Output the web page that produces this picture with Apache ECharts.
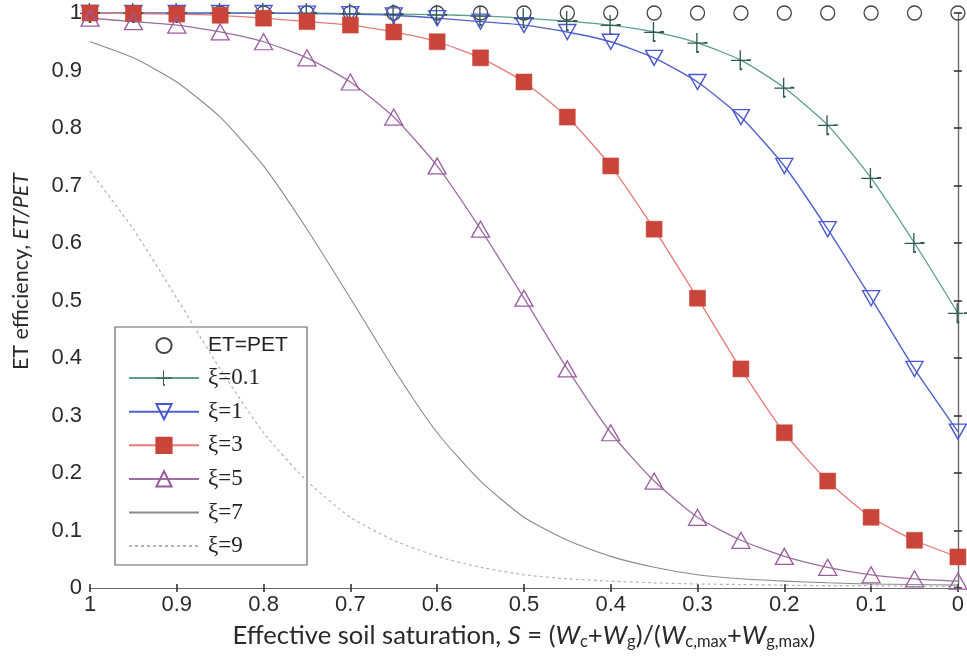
<!DOCTYPE html>
<html>
<head>
<meta charset="utf-8">
<script src="https://cdn.jsdelivr.net/npm/echarts@6/dist/echarts.min.js"></script>
<style>
  html, body { margin: 0; padding: 0; background: #fff; }
  #chart { width: 967px; height: 666px; }
</style>
</head>
<body>
<div id="chart"></div>
<script>
// Effective soil saturation S (x), from wet (1) to dry (0)
const saturation = [1, 0.95, 0.9, 0.85, 0.8, 0.75, 0.7, 0.65, 0.6, 0.55, 0.5,
                    0.45, 0.4, 0.35, 0.3, 0.25, 0.2, 0.15, 0.1, 0.05, 0];

// ET/PET for each curve, one value per saturation point
const etEqualsPet = [1, 1, 1, 1, 1, 1, 1, 1, 1, 1, 1, 1, 1, 1, 1, 1, 1, 1, 1, 1, 1];
const xi01 = [1, 1, 1, 1, 1, 1, 0.999, 0.998, 0.997, 0.995, 0.991,
              0.986, 0.979, 0.967, 0.948, 0.918, 0.870, 0.805, 0.713, 0.600, 0.478];
const xi1  = [1, 1, 1, 1, 1, 0.999, 0.998, 0.996, 0.991, 0.985, 0.979,
              0.967, 0.950, 0.922, 0.880, 0.819, 0.734, 0.624, 0.504, 0.381, 0.272];
const xi3  = [1, 0.999, 0.998, 0.996, 0.991, 0.985, 0.979, 0.967, 0.950, 0.922, 0.880,
              0.819, 0.734, 0.624, 0.504, 0.381, 0.270, 0.186, 0.123, 0.083, 0.054];
const xi5  = [0.991, 0.985, 0.979, 0.967, 0.950, 0.922, 0.880, 0.819, 0.734, 0.624, 0.504,
              0.381, 0.270, 0.186, 0.123, 0.083, 0.055, 0.036, 0.023, 0.016, 0.012];
const xi7  = [0.950, 0.922, 0.880, 0.819, 0.734, 0.624, 0.504, 0.381, 0.270, 0.186, 0.123,
              0.083, 0.055, 0.036, 0.023, 0.016, 0.012, 0.009, 0.007, 0.006, 0.005];
const xi9  = [0.725, 0.624, 0.504, 0.381, 0.270, 0.186, 0.123, 0.083, 0.055, 0.036, 0.023,
              0.016, 0.012, 0.009, 0.007, 0.006, 0.005, 0.004, 0.004, 0.003, 0.003];

const seriesNames = ['ET=PET', 'ξ=0.1', 'ξ=1', 'ξ=3', 'ξ=5', 'ξ=7', 'ξ=9'];
// curves drawn as plain lines: no marker in the legend either
const lineOnly = ['ξ=7', 'ξ=9'];

// Tick labels on both axes
const xTickLabels = ['0', '0.1', '0.2', '0.3', '0.4', '0.5', '0.6', '0.7', '0.8', '0.9', '1'];
const yTickLabels = ['0', '0.1', '0.2', '0.3', '0.4', '0.5', '0.6', '0.7', '0.8', '0.9', '1'];

const pair = ys => saturation.map((s, i) => [s, ys[i]]);
const tickLabel = labels => v => labels[Math.round(v * 10)];

// plus marker with a small dash, used for the ξ=0.1 curve
const plusMark = 'path://M19,4h2v28h-2z M6,19h24v2h-24z M30,18h6v3h-6z M19,32h4v3h-4z';

const chart = echarts.init(document.getElementById('chart'), null, { renderer: 'canvas' });

const axisLine = { show: true, lineStyle: { color: '#6a6a6a', width: 1.2 } };
const innerTicks = { show: true, inside: true, length: 4, lineStyle: { color: '#333', width: 1.6 } };
const tickFont = { fontFamily: 'Liberation Sans', fontSize: 22, color: '#2a2a2a' };
const smoothness = 0.2;

chart.setOption({
  animation: false,
  backgroundColor: '#fff',
  grid: { left: 90, right: 6, top: 13, bottom: 78, containLabel: false },
  xAxis: [{
    type: 'value', min: 0, max: 1, interval: 0.1, inverse: true,
    axisLine, axisTick: innerTicks, splitLine: { show: false },
    axisLabel: Object.assign({ margin: 6, formatter: tickLabel(xTickLabels) }, tickFont),
    name: '{n|Effective soil saturation, }{i|S}{n| = (}{i|W}{s|c}{n|+}{i|W}{s|g}{n|)/(}{i|W}{s|c,max}{n|+}{i|W}{s|g,max}{n|)}',
    nameLocation: 'middle', nameGap: 32,
    nameTextStyle: {
      rich: {
        n: { fontFamily: 'Lato', fontSize: 25.6, color: '#2a2a2a', lineHeight: 30 },
        i: { fontFamily: 'Lato', fontSize: 25.6, fontStyle: 'italic', color: '#2a2a2a', lineHeight: 30 },
        s: { fontFamily: 'Lato', fontSize: 16.5, color: '#2a2a2a', lineHeight: 30, padding: [12, 0, 0, 0] }
      }
    }
  }, {
    type: 'value', min: 0, max: 1, interval: 0.1, inverse: true, position: 'top',
    axisLine, axisTick: innerTicks, axisLabel: { show: false }, splitLine: { show: false }
  }],
  yAxis: [{
    type: 'value', min: 0, max: 1, interval: 0.1,
    axisLine, axisTick: innerTicks, splitLine: { show: false },
    axisLabel: Object.assign({ margin: 8, formatter: tickLabel(yTickLabels) }, tickFont),
    name: '{n|ET efficiency, }{i|ET/PET}',
    nameLocation: 'middle', nameGap: 58, nameRotate: 90,
    nameTextStyle: {
      padding: [0, 0, 0, 58],
      rich: {
        n: { fontFamily: 'Lato', fontSize: 21.5, color: '#2a2a2a' },
        i: { fontFamily: 'Lato', fontSize: 21.5, fontStyle: 'italic', color: '#2a2a2a' }
      }
    }
  }, {
    type: 'value', min: 0, max: 1, interval: 0.1, position: 'right',
    axisLine, axisTick: innerTicks, axisLabel: { show: false }, splitLine: { show: false }
  }],
  legend: {
    orient: 'vertical', left: 123, top: 330,
    itemWidth: 70, itemHeight: 19, itemGap: 10.6,
    data: seriesNames.map(n => lineOnly.includes(n)
      ? { name: n, itemStyle: { opacity: 0 } }
      : { name: n }),
    formatter: n => n === 'ET=PET' ? '{s|' + n + '}' : '{r|' + n + '}',
    textStyle: {
      padding: [0, 0, 0, 4],
      rich: {
        s: { fontFamily: 'Liberation Sans', fontSize: 21, color: '#222', lineHeight: 24 },
        r: { fontFamily: 'Liberation Serif', fontSize: 23, color: '#222', lineHeight: 24 }
      }
    }
  },
  graphic: [{
    type: 'rect', z: 3,
    shape: { x: 115, y: 327, width: 192, height: 238 },
    style: { fill: '#fff', stroke: '#666', lineWidth: 1.2 }
  }],
  series: [
    {
      name: 'ET=PET', type: 'line', data: pair(etEqualsPet),
      symbol: 'circle', symbolSize: 14, showAllSymbol: true,
      lineStyle: { opacity: 0, width: 0 },
      itemStyle: { color: 'rgba(0,0,0,0)', borderColor: '#444', borderWidth: 1.3 }
    },
    {
      name: 'ξ=0.1', type: 'line', data: pair(xi01), smooth: smoothness,
      symbol: plusMark, symbolSize: [20, 20], showAllSymbol: true,
      lineStyle: { color: '#5a9e8c', width: 1.3 },
      itemStyle: { color: '#2f5a50', borderWidth: 0 }
    },
    {
      name: 'ξ=1', type: 'line', data: pair(xi1), smooth: smoothness,
      symbol: 'triangle', symbolRotate: 180, symbolSize: [17, 15], showAllSymbol: true,
      lineStyle: { color: '#5260cc', width: 1.4 },
      itemStyle: { color: 'rgba(255,255,255,0)', borderColor: '#4a58d0', borderWidth: 1.4 }
    },
    {
      name: 'ξ=3', type: 'line', data: pair(xi3), smooth: smoothness,
      symbol: 'rect', symbolSize: 16, showAllSymbol: true,
      lineStyle: { color: '#e57a78', width: 1.3 },
      itemStyle: { color: '#c9453a', borderColor: '#c9453a', borderWidth: 0.5 }
    },
    {
      name: 'ξ=5', type: 'line', data: pair(xi5), smooth: smoothness,
      symbol: 'triangle', symbolSize: [18, 16], showAllSymbol: true,
      lineStyle: { color: '#9c6ea2', width: 1.3 },
      itemStyle: { color: 'rgba(255,255,255,0)', borderColor: '#9a5c9e', borderWidth: 1.3 }
    },
    {
      name: 'ξ=7', type: 'line', data: pair(xi7), smooth: smoothness,
      symbol: 'none',
      lineStyle: { color: '#8a8a8a', width: 1.1 },
      itemStyle: { color: '#8a8a8a' }
    },
    {
      name: 'ξ=9', type: 'line', data: pair(xi9), smooth: smoothness,
      symbol: 'none',
      lineStyle: { color: '#b4b4b4', width: 1.2, type: [3, 3] },
      itemStyle: { color: '#b4b4b4' }
    }
  ]
});
</script>
</body>
</html>
